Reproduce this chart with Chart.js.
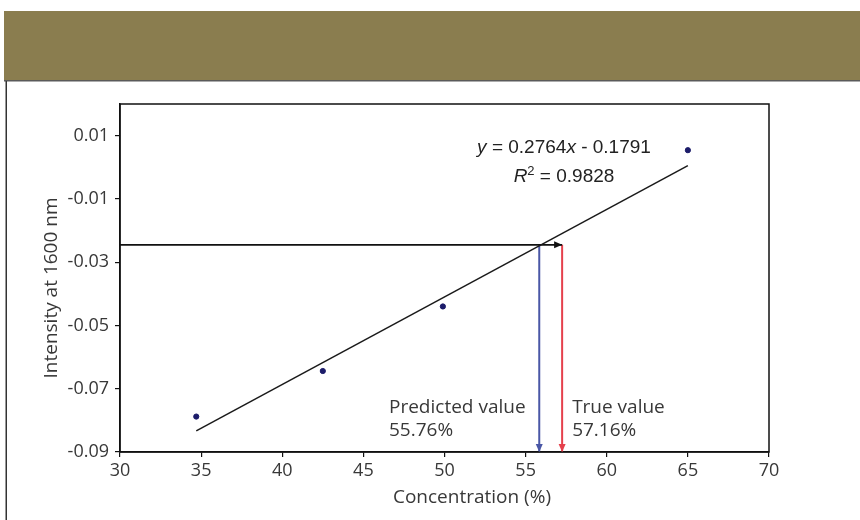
<!DOCTYPE html>
<html><head><meta charset="utf-8">
<script src="https://cdn.jsdelivr.net/npm/chart.js@4"></script>
<style>html,body{margin:0;padding:0;background:#fff;overflow:hidden}</style>
</head><body>
<canvas id="c" width="860" height="520"></canvas>
<script>
// ---- data ----
const concentration = [34.7, 42.5, 49.9, 65.0];
const intensity = [-0.0788, -0.0644, -0.0440, 0.0054];
const fitX = [34.7, 65.0];
const fitY = [-0.0833, 0.0005];
const targetIntensity = -0.0245;
const axisStartX = 30;
const axisBottomY = -0.09;
const predictedX = 55.84;
const trueX = 57.25;
const xTicks = [30, 35, 40, 45, 50, 55, 60, 65, 70];
const yTicks = [-0.09, -0.07, -0.05, -0.03, -0.01, 0.01];
const xTitle = 'Concentration (%)';
const yTitle = 'Intensity at 1600 nm';
const eqText = ['y', ' = 0.2764', 'x', ' - 0.1791'];
const r2Text = ' = 0.9828';
const predictedLabel = ['Predicted value', '55.76%'];
const trueLabel = ['True value', '57.16%'];

const FONT = "'Open Sans', 'Liberation Sans', sans-serif";
const TXT = '#383838';

const frame = {
  id: 'frame',
  beforeDraw(chart) {
    const ctx = chart.ctx;
    ctx.save();
    ctx.fillStyle = '#fff';
    ctx.fillRect(0, 0, chart.width, chart.height);
    ctx.fillStyle = '#8a7d4f';
    ctx.fillRect(4, 11, chart.width - 4, 70);
    ctx.fillStyle = '#5a5a5a';
    ctx.fillRect(4, 80, chart.width - 4, 1.5);
    ctx.fillStyle = '#333';
    ctx.fillRect(5.5, 81, 1.5, chart.height - 81);
    ctx.restore();
  },
  afterDatasetsDraw(chart) {
    const ctx = chart.ctx, a = chart.chartArea;
    const xs = chart.scales.x;
    ctx.save();
    // plot frame
    ctx.strokeStyle = '#111';
    ctx.lineWidth = 1.5;
    ctx.strokeRect(a.left, a.top, a.right - a.left, a.bottom - a.top);
    // arrowheads
    chart.data.datasets.forEach((ds, i) => {
      if (!ds.arrow) return;
      const pts = chart.getDatasetMeta(i).data;
      const p1 = pts[pts.length - 2], p2 = pts[pts.length - 1];
      const ang = Math.atan2(p2.y - p1.y, p2.x - p1.x);
      const L = 8, W = 3.5;
      ctx.fillStyle = ds.borderColor;
      ctx.beginPath();
      ctx.moveTo(p2.x, p2.y);
      ctx.lineTo(p2.x - L * Math.cos(ang) + W * Math.sin(ang), p2.y - L * Math.sin(ang) - W * Math.cos(ang));
      ctx.lineTo(p2.x - L * Math.cos(ang) - W * Math.sin(ang), p2.y - L * Math.sin(ang) + W * Math.cos(ang));
      ctx.closePath();
      ctx.fill();
    });
    // equation
    ctx.fillStyle = '#222';
    ctx.textBaseline = 'middle';
    const eqFont = (it) => (it ? 'italic ' : '') + "19px 'Liberation Sans Narrow', 'Liberation Sans', sans-serif";
    const supFont = "13px 'Liberation Sans Narrow', 'Liberation Sans', sans-serif";
    const cx = 564, ey = 148;
    const parts = eqText.map((t, k) => ({t, it: k % 2 === 0}));
    let w = 0;
    parts.forEach(p => { ctx.font = eqFont(p.it); p.w = ctx.measureText(p.t).width; w += p.w; });
    let x = cx - w / 2;
    ctx.textAlign = 'left';
    parts.forEach(p => { ctx.font = eqFont(p.it); ctx.fillText(p.t, x, ey); x += p.w; });
    // R^2
    const ry = 177;
    ctx.font = eqFont(true);
    const wR = ctx.measureText('R').width;
    ctx.font = supFont;
    const w2 = ctx.measureText('2').width;
    ctx.font = eqFont(false);
    const wRest = ctx.measureText(r2Text).width;
    x = cx - (wR + w2 + wRest) / 2;
    ctx.font = eqFont(true); ctx.fillText('R', x, ry); x += wR;
    ctx.font = supFont; ctx.fillText('2', x, ry - 6); x += w2;
    ctx.font = eqFont(false); ctx.fillText(r2Text, x, ry);
    // value labels
    ctx.fillStyle = TXT;
    ctx.font = '19px ' + FONT;
    const rx = xs.getPixelForValue(trueX);
    ctx.textAlign = 'left';
    ctx.fillText(predictedLabel[0], 389, 408);
    ctx.fillText(predictedLabel[1], 389, 431);
    ctx.fillText(trueLabel[0], rx + 10, 408);
    ctx.fillText(trueLabel[1], rx + 10, 431);
    // axis titles
    ctx.textAlign = 'center';
    ctx.fillText(xTitle, 472, 498);
    ctx.save();
    ctx.translate(52, 288);
    ctx.rotate(-Math.PI / 2);
    ctx.fillText(yTitle, 0, 0);
    ctx.restore();
    ctx.restore();
  }
};

const pts = concentration.map((c, i) => ({x: c, y: intensity[i]}));
const fit = fitX.map((c, i) => ({x: c, y: fitY[i]}));

new Chart(document.getElementById('c'), {
  type: 'scatter',
  data: {
    datasets: [
      {data: pts, backgroundColor: '#1c1c6a', borderColor: '#1c1c6a', pointRadius: 2.6, pointHoverRadius: 2.6, pointStyle: 'circle'},
      {data: fit, showLine: true, borderColor: '#1a1a1a', borderWidth: 1.5, pointRadius: 0},
      {data: [{x: axisStartX, y: targetIntensity}, {x: trueX, y: targetIntensity}], showLine: true, arrow: true, borderColor: '#111', borderWidth: 1.8, pointRadius: 0},
      {data: [{x: predictedX, y: targetIntensity}, {x: predictedX, y: axisBottomY}], showLine: true, arrow: true, borderColor: '#4a57a6', borderWidth: 2, pointRadius: 0},
      {data: [{x: trueX, y: targetIntensity}, {x: trueX, y: axisBottomY}], showLine: true, arrow: true, borderColor: '#e5404c', borderWidth: 2, pointRadius: 0}
    ]
  },
  options: {
    responsive: false,
    animation: false,
    events: [],
    layout: {padding: {left: 0, top: 104, right: 91, bottom: 0}},
    plugins: {legend: {display: false}, tooltip: {enabled: false}, title: {display: false}},
    scales: {
      x: {
        type: 'linear', min: 30, max: 70,
        afterBuildTicks: s => { s.ticks = xTicks.map(v => ({value: v})); },
        afterFit: s => { s.height = 68; },
        grid: {drawOnChartArea: false, drawTicks: true, tickLength: 5, color: '#111', lineWidth: 1.2},
        border: {display: true, color: '#111', width: 1.5},
        ticks: {color: TXT, font: {family: FONT, size: 18}, padding: 3, maxRotation: 0, autoSkip: false}
      },
      y: {
        type: 'linear', min: -0.09, max: 0.02,
        afterBuildTicks: s => { s.ticks = yTicks.map(v => ({value: v})); },
        afterFit: s => { s.width = 120; },
        grid: {drawOnChartArea: false, drawTicks: true, tickLength: 5, color: '#111', lineWidth: 1.2},
        border: {display: true, color: '#111', width: 1.5},
        ticks: {color: TXT, font: {family: FONT, size: 18}, padding: 6, autoSkip: false,
          callback: v => v.toFixed(2)}
      }
    }
  },
  plugins: [frame]
});
</script>
</body></html>
